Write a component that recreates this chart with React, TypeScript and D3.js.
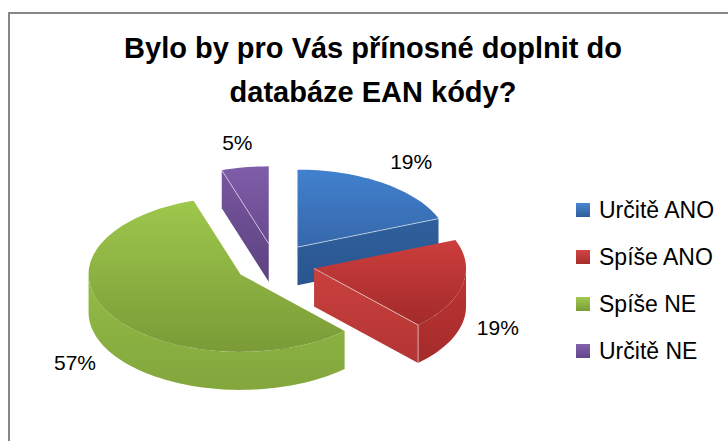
import React from "react";
import * as d3 from "d3";

// ---- data ----
const categories = ["Určitě ANO", "Spíše ANO", "Spíše NE", "Určitě NE"];
const values = [19, 19, 57, 5];
const percentLabels = ["19%", "19%", "57%", "5%"];
const titleLines = ["Bylo by pro Vás přínosné doplnit do", "databáze EAN kódy?"];

// ---- layout / style ----
const W = 728;
const H = 441;
const CX = 275;
const CY = 264;
const RX = 152;
const RY = 77.5;
const DEPTH = 38;
const EXPLODE = 40;
const FONT = "'Liberation Sans', Arial, 'DejaVu Sans', sans-serif";

const palette = [
  { top: ["#4181CE", "#3667AA"], cut: ["#2F609D", "#2A558F"], side: ["#2F609D", "#2A558F"], legend: ["#4A86D0", "#2E5E9C"] },
  { top: ["#CC3E3D", "#A32A2A"], cut: ["#C8403E", "#B43534"], side: ["#BE3433", "#A42B2B"], legend: ["#D04644", "#A52C2B"] },
  { top: ["#9EC74C", "#7A9B37"], cut: ["#8FB745", "#84A73E"], side: ["#93BC46", "#83A63D"], legend: ["#A2CA50", "#7A9B37"] },
  { top: ["#7F5DA9", "#6A4A8F"], cut: ["#77569F", "#5E4281"], side: ["#6E4E96", "#5E4281"], legend: ["#8462AE", "#62468A"] },
];

type Pt = [number, number];

export default function App() {
  const arcs = d3
    .pie<number>()
    .sort(null)
    .startAngle(0)
    .endAngle(2 * Math.PI)(values);

  const line = d3.line<Pt>().x((d) => d[0]).y((d) => d[1]);

  const slices = arcs.map((a, i) => {
    const m = (a.startAngle + a.endAngle) / 2;
    const ox = EXPLODE * Math.sin(m);
    const oy = -EXPLODE * (RY / RX) * Math.cos(m);
    const p = (ang: number, r: number, z: number): Pt => [
      CX + ox + r * RX * Math.sin(ang),
      CY + oy - r * RY * Math.cos(ang) + z,
    ];
    const sample = (a0: number, a1: number, z: number): Pt[] => {
      const n = Math.max(2, Math.ceil(((a1 - a0) * 180) / Math.PI / 2));
      return d3.range(n + 1).map((k) => p(a0 + ((a1 - a0) * k) / n, 1, z));
    };
    const apex = p(0, 0, 0);
    const apexB = p(0, 0, DEPTH);
    const top = line([apex, ...sample(a.startAngle, a.endAngle, 0)])! + "Z";

    const cuts: { d: string; edge: string }[] = [];
    if (Math.sin(a.startAngle) < -1e-9) {
      const o = p(a.startAngle, 1, 0);
      const ob = p(a.startAngle, 1, DEPTH);
      cuts.push({ d: line([apex, o, ob, apexB])! + "Z", edge: line([apex, o])! });
    }
    if (Math.sin(a.endAngle) > 1e-9) {
      const o = p(a.endAngle, 1, 0);
      const ob = p(a.endAngle, 1, DEPTH);
      cuts.push({ d: line([apex, o, ob, apexB])! + "Z", edge: line([apex, o])! + line([o, ob])!.replace("M", "M") });
    }

    let side: string | null = null;
    const lo = Math.max(a.startAngle, Math.PI / 2);
    const hi = Math.min(a.endAngle, (3 * Math.PI) / 2);
    if (lo < hi) {
      side = line([...sample(lo, hi, 0), ...sample(lo, hi, DEPTH).reverse()])! + "Z";
    }

    // label
    const front = Math.cos(m) < 0;
    const anchor = p(m, 1, front ? DEPTH : 0);
    let ux = Math.sin(m);
    let uy = -Math.cos(m) * (RY / RX);
    const len = Math.hypot(ux, uy);
    ux /= len;
    uy /= len;
    const fs = 21;
    const txt = percentLabels[i];
    const digits = txt.length - 1;
    const hw = ((digits * 0.556 + 0.889) * fs) / 2;
    const hh = 0.36 * fs;
    const L = 14 + hw * Math.abs(ux) + hh * Math.abs(uy);
    const lx = anchor[0] + ux * L;
    const ly = anchor[1] + uy * L;

    return { i, oy, top, cuts, side, lx, ly, fs, txt };
  });

  const order = [...slices].sort((a, b) => a.oy - b.oy);

  const legendY = d3
    .scalePoint<string>()
    .domain(categories)
    .range([210, 351]);

  return (
    <div style={{ position: "fixed", left: 0, top: 0 }}>
      <svg width={W} height={H} style={{ display: "block" }}>
        <defs>
          {palette.map((c, i) =>
            (["top", "cut", "side", "legend"] as const).map((k) => (
              <linearGradient key={`${k}${i}`} id={`g-${k}-${i}`} x1="0" y1="0" x2="0" y2="1">
                <stop offset="0" stopColor={c[k][0]} />
                <stop offset="1" stopColor={c[k][1]} />
              </linearGradient>
            ))
          )}
        </defs>
        <rect x={0} y={0} width={W} height={H} fill="#ffffff" />
        <rect x={9} y={13} width={W} height={H} fill="#ffffff" stroke="#878787" strokeWidth={2} />

        {titleLines.map((t, k) => (
          <text
            key={k}
            x={373}
            y={58 + k * 44}
            textAnchor="middle"
            fontFamily={FONT}
            fontWeight="bold"
            fontSize={29}
            fill="#000"
          >
            {t}
          </text>
        ))}

        {order.map((s) => (
          <g key={s.i}>
            {s.side && <path d={s.side} fill={`url(#g-side-${s.i})`} />}
            {s.cuts.map((c, k) => (
              <path key={k} d={c.d} fill={`url(#g-cut-${s.i})`} />
            ))}
            <path d={s.top} fill={`url(#g-top-${s.i})`} />
            {s.cuts.map((c, k) => (
              <path key={"e" + k} d={c.edge} fill="none" stroke="#ffffff" strokeOpacity={0.55} strokeWidth={1} />
            ))}
          </g>
        ))}

        {slices.map((s) => (
          <text
            key={"l" + s.i}
            x={s.lx}
            y={s.ly + 0.358 * s.fs}
            textAnchor="middle"
            fontFamily={FONT}
            fontSize={s.fs}
            fill="#000"
          >
            {s.txt}
          </text>
        ))}

        {categories.map((c, i) => (
          <g key={c} transform={`translate(576,${legendY(c)})`}>
            <rect x={0} y={-7} width={14} height={14} fill={`url(#g-legend-${i})`} />
            <text x={23} y={8} fontFamily={FONT} fontSize={23} fill="#000">
              {c}
            </text>
          </g>
        ))}
      </svg>
    </div>
  );
}
